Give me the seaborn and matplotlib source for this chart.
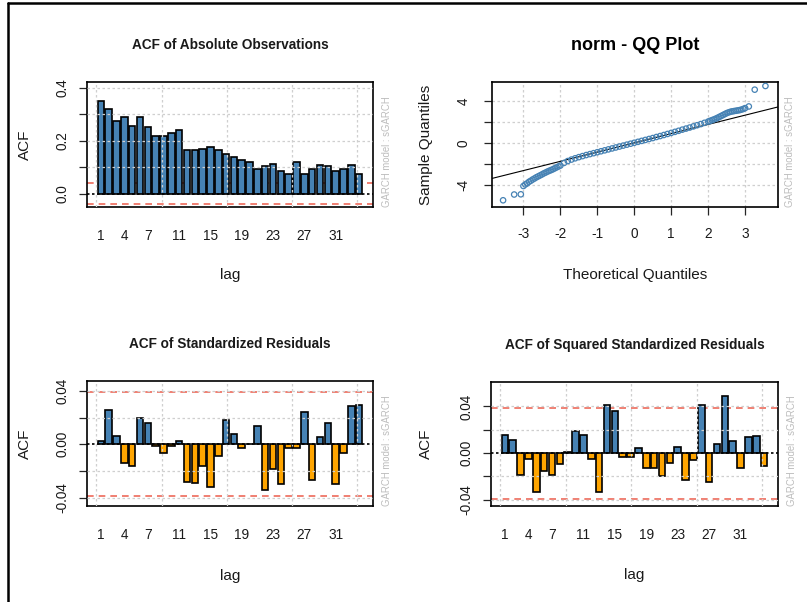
import matplotlib
matplotlib.use("Agg")
import matplotlib.pyplot as plt
from matplotlib.lines import Line2D
import pandas as pd
import seaborn as sns

# ---- data ----------------------------------------------------------------
lags = list(range(1, 35))
lag_labels = [1, 4, 7, 11, 15, 19, 23, 27, 31]

acf_abs = [0.348, 0.319, 0.273, 0.288, 0.254, 0.288, 0.250, 0.216, 0.216, 0.229,
           0.241, 0.166, 0.166, 0.170, 0.175, 0.164, 0.148, 0.139, 0.126, 0.119,
           0.094, 0.104, 0.113, 0.086, 0.076, 0.119, 0.076, 0.094, 0.108, 0.104,
           0.086, 0.094, 0.108, 0.076]

acf_std = [0.0028, 0.0255, 0.0065, -0.0138, -0.0165, 0.0198, 0.0160, -0.0015, -0.0065, -0.0015,
           0.0028, -0.0280, -0.0290, -0.0160, -0.0320, -0.0085, 0.0185, 0.0080, -0.0028, 0.0002,
           0.0135, -0.0345, -0.0185, -0.0300, -0.0025, -0.0025, 0.0240, -0.0270, 0.0058, 0.0158,
           -0.0300, -0.0065, 0.0285, 0.0298]

acf_sq = [0.0152, 0.0110, -0.0185, -0.0050, -0.0330, -0.0150, -0.0185, -0.0093, 0.0010, 0.0188,
          0.0152, -0.0050, -0.0330, 0.0413, 0.0357, -0.0037, -0.0037, 0.0039, -0.0126, -0.0126,
          -0.0194, -0.0084, 0.0048, -0.0233, -0.0060, 0.0413, -0.0247, 0.0081, 0.0490, 0.0101,
          -0.0126, 0.0138, 0.0143, -0.0115]

conf_bound = 0.039

qq_theoretical = [-3.55, -3.25, -3.07,
                  -3.0, -2.95, -2.9, -2.85, -2.8, -2.75, -2.7, -2.65, -2.6, -2.55,
                  -2.5, -2.45, -2.4, -2.35, -2.3, -2.25, -2.2, -2.15, -2.1, -2.05,
                  -2.0, -1.9, -1.8, -1.7, -1.6, -1.5, -1.4, -1.3, -1.2, -1.1,
                  -1.0, -0.9, -0.8, -0.7, -0.6, -0.5, -0.4, -0.3, -0.2, -0.1,
                  0.0, 0.1, 0.2, 0.3, 0.4, 0.5, 0.6, 0.7, 0.8, 0.9,
                  1.0, 1.1, 1.2, 1.3, 1.4, 1.5, 1.6, 1.7, 1.8, 1.9,
                  2.0, 2.05, 2.1, 2.15, 2.2, 2.25, 2.3, 2.35, 2.4, 2.45,
                  2.5, 2.55, 2.6, 2.65, 2.7, 2.75, 2.8, 2.85, 2.9, 2.95,
                  3.0, 3.1, 3.26, 3.55]
qq_sample = [-5.46, -4.91, -4.89,
             -4.10, -3.95, -3.85, -3.70, -3.60, -3.48, -3.38, -3.27, -3.18, -3.09,
             -3.00, -2.90, -2.82, -2.73, -2.65, -2.58, -2.50, -2.41, -2.32, -2.24,
             -2.15, -1.90, -1.72, -1.58, -1.46, -1.35, -1.25, -1.15, -1.06, -0.97,
             -0.88, -0.79, -0.70, -0.61, -0.52, -0.43, -0.34, -0.25, -0.16, -0.07,
             0.02, 0.11, 0.20, 0.29, 0.38, 0.47, 0.57, 0.66, 0.76, 0.86,
             0.96, 1.06, 1.16, 1.27, 1.37, 1.47, 1.58, 1.69, 1.80, 1.92,
             2.04, 2.10, 2.17, 2.24, 2.31, 2.39, 2.48, 2.57, 2.66, 2.75,
             2.84, 2.91, 2.97, 3.01, 3.04, 3.07, 3.10, 3.13, 3.18, 3.24,
             3.32, 3.48, 5.08, 5.43]
qq_line_slope = 0.88
qq_line_intercept = 0.01

# ---- style ---------------------------------------------------------------
sns.set_style("white")
plt.rcParams["font.family"] = ["Liberation Sans", "DejaVu Sans"]
plt.rcParams["axes.linewidth"] = 1.2

BLUE = "#4682B4"
ORANGE = "#FFA500"
RED = "#EE6A5A"
GRID = "#CFCFCF"
TEXT = "#1a1a1a"

TICK_SIZE = 9.8
LABEL_SIZE = 11

W, H = 807, 602
fig = plt.figure(figsize=(W / 100, H / 100), dpi=100)


def add_panel(left, top, right, bottom):
    return fig.add_axes([left / W, 1 - bottom / H, (right - left) / W, (bottom - top) / H])


def r_to_cat(r):
    # barplot coordinate (width 1, space 0.2) -> category index
    return (r - 0.7) / 1.2


def acf_panel(ax, values, title, ylim, yticks, ylabels, ylabel_x, xlabel_y):
    df = pd.DataFrame({"lag": lags, "acf": values})
    df["sign"] = ["pos" if v >= 0 else "neg" for v in values]
    ax.axhline(conf_bound, color=RED, lw=1.2, ls=(0, (4, 3)), zorder=1)
    ax.axhline(-conf_bound, color=RED, lw=1.2, ls=(0, (4, 3)), zorder=1)
    sns.barplot(data=df, x="lag", y="acf", hue="sign", order=lags,
                hue_order=["pos", "neg"], palette={"pos": BLUE, "neg": ORANGE},
                saturation=1, dodge=False, width=1 / 1.2, edgecolor="black",
                linewidth=1.2, errorbar=None, legend=False, ax=ax, zorder=2)
    ax.axhline(0, color="black", lw=1.2, ls=(0, (1.5, 1.5)), zorder=4)
    for r in [0, 10, 20, 30, 40]:
        ax.axvline(r_to_cat(r), color=GRID, lw=0.9, ls=(0, (2, 2)), zorder=3)
    for yv in yticks:
        if abs(yv) > 1e-12:
            ax.axhline(yv, color=GRID, lw=0.9, ls=(0, (2, 2)), zorder=3)
    ax.set_xlim(r_to_cat(-1.424), r_to_cat(42.424))
    ax.set_ylim(*ylim)
    ax.set_xticks([l - 1 for l in lag_labels])
    ax.set_xticklabels([str(l) for l in lag_labels])
    ax.set_yticks(yticks)
    ax.set_yticklabels(ylabels)
    ax.tick_params(axis="x", length=0, pad=16, labelsize=TICK_SIZE, labelcolor=TEXT)
    ax.tick_params(axis="y", left=True, length=5.5, width=0.9, direction="out",
                   pad=7, labelsize=TICK_SIZE, labelrotation=90, labelcolor=TEXT)
    for lab in ax.get_yticklabels():
        lab.set_va("center")
    ax.set_xlabel("lag", fontsize=LABEL_SIZE, color=TEXT)
    ax.set_ylabel("ACF", fontsize=LABEL_SIZE, color=TEXT)
    ax.xaxis.set_label_coords(0.5, xlabel_y)
    ax.yaxis.set_label_coords(ylabel_x, 0.5)
    ax.set_title(title, fontsize=9.8, fontweight="bold", y=1.296, pad=0,
                 va="center", color=TEXT)
    for s in ax.spines.values():
        s.set_color("black")
        s.set_linewidth(1.2)
    ax.text(1 + 14 / 286, 0.0, "GARCH model : sGARCH", transform=ax.transAxes,
            rotation=90, ha="center", va="bottom", fontsize=6.9, color="#BDBDBD")


# top-left: ACF of absolute observations
ax1 = add_panel(87, 82, 373, 207)
acf_panel(ax1, acf_abs, "ACF of Absolute Observations", (-0.05, 0.421),
          [0.0, 0.1, 0.2, 0.3, 0.4], ["0.0", "", "0.2", "", "0.4"], -0.192, -0.488)

# bottom-left: ACF of standardized residuals
ax3 = add_panel(87, 381, 373, 506)
acf_panel(ax3, acf_std, "ACF of Standardized Residuals", (-0.0463, 0.0475),
          [-0.04, -0.02, 0.0, 0.02, 0.04], ["-0.04", "", "0.00", "", "0.04"], -0.192, -0.504)

# bottom-right: ACF of squared standardized residuals
ax4 = add_panel(491, 382, 778, 506)
acf_panel(ax4, acf_sq, "ACF of Squared Standardized Residuals", (-0.0454, 0.0609),
          [-0.04, -0.02, 0.0, 0.02, 0.04], ["-0.04", "", "0.00", "", "0.04"], -0.202, -0.504)

# top-right: normal QQ plot
ax2 = add_panel(492, 82, 778, 207)
for xv in [-3, -2, -1, 0, 1, 2, 3]:
    ax2.axvline(xv, color=GRID, lw=0.9, ls=(0, (2, 2)), zorder=1)
for yv in [-4, -2, 0, 2, 4]:
    ax2.axhline(yv, color=GRID, lw=0.9, ls=(0, (2, 2)), zorder=1)
qq = pd.DataFrame({"theoretical": qq_theoretical, "sample": qq_sample})
sns.scatterplot(data=qq, x="theoretical", y="sample", ax=ax2, marker="o",
                s=15, fc="none", ec=BLUE, linewidth=0.9, zorder=3)
ax2.axline((0, qq_line_intercept), slope=qq_line_slope, color="black", lw=0.8, zorder=2)
ax2.set_xlim(-3.85, 3.89)
ax2.set_ylim(-6.1, 5.81)
ax2.set_xticks([-3, -2, -1, 0, 1, 2, 3])
ax2.set_xticklabels(["-3", "-2", "-1", "0", "1", "2", "3"])
ax2.set_yticks([-4, -2, 0, 2, 4])
ax2.set_yticklabels(["-4", "", "0", "", "4"])
ax2.tick_params(axis="x", bottom=True, length=5.5, width=0.9, direction="out",
                pad=9, labelsize=TICK_SIZE, labelcolor=TEXT)
ax2.tick_params(axis="y", left=True, length=5.5, width=0.9, direction="out",
                pad=10, labelsize=TICK_SIZE, labelrotation=90, labelcolor=TEXT)
for lab in ax2.get_yticklabels():
    lab.set_va("center")
ax2.set_xlabel("Theoretical Quantiles", fontsize=LABEL_SIZE, color=TEXT)
ax2.set_ylabel("Sample Quantiles", fontsize=LABEL_SIZE, color=TEXT)
ax2.xaxis.set_label_coords(0.5, -0.488)
ax2.yaxis.set_label_coords(-0.206, 0.5)
ax2.set_title("norm - QQ Plot", fontsize=13, fontweight="bold", y=1.288, pad=0,
              va="center", color="black")
for s in ax2.spines.values():
    s.set_color("black")
    s.set_linewidth(1.2)
ax2.text(1 + 12 / 286, 0.0, "GARCH model : sGARCH", transform=ax2.transAxes,
         rotation=90, ha="center", va="bottom", fontsize=6.9, color="#BDBDBD")

# outer frame on the left and top edges
fig.add_artist(Line2D([8 / W, 8 / W], [0, 1 - 3 / H], color="black", lw=1.8,
                      transform=fig.transFigure))
fig.add_artist(Line2D([8 / W, 1], [1 - 3 / H, 1 - 3 / H], color="black", lw=1.8,
                      transform=fig.transFigure))

fig.savefig("out.png", dpi=100)
